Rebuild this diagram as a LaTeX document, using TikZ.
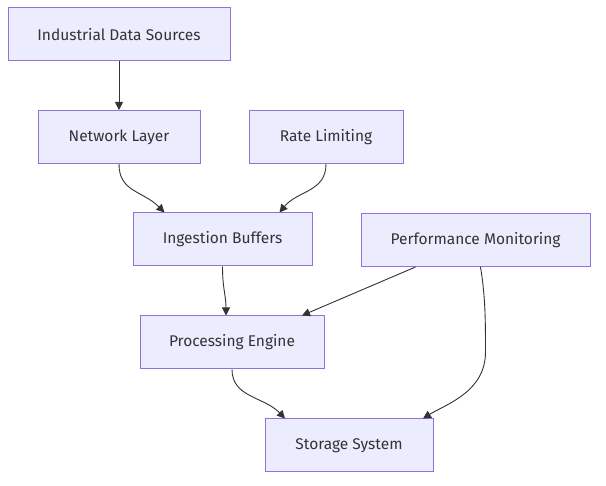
\documentclass[tikz,border=0pt]{standalone}
\usepackage{fontspec}
\setmainfont{Fira Sans}
\usetikzlibrary{arrows.meta}
\definecolor{boxfill}{HTML}{ECECFF}
\definecolor{boxline}{HTML}{9370DB}
\definecolor{edge}{HTML}{333333}
\begin{document}
\begin{tikzpicture}[x=1pt,y=-1pt,
  box/.style={draw=boxline,fill=boxfill,line width=1pt,minimum height=53pt,inner sep=0pt,
    font=\fontsize{15.5}{18}\selectfont,text=edge},
  link/.style={draw=edge,line width=0.9pt,-{Triangle[length=8pt,width=8pt]}}]
\path[use as bounding box] (0,0) rectangle (606,486);
\node[box,minimum width=222pt] (ids) at (119,34.5) {Industrial Data Sources};
\node[box,minimum width=162pt] (nl) at (119,137) {Network Layer};
\node[box,minimum width=154pt] (rl) at (326,137) {Rate Limiting};
\node[box,minimum width=179pt] (ib) at (222.5,239.5) {Ingestion Buffers};
\node[box,minimum width=229pt] (pm) at (475.5,240) {Performance Monitoring};
\node[box,minimum width=184pt] (pe) at (232,342.5) {Processing Engine};
\node[box,minimum width=168pt] (ss) at (349,445.5) {Storage System};

\draw[link] (ids.south) -- (nl.north);
\draw[link] (nl.south) .. controls ([shift={(0,28)}]nl.south) and ([shift={(-80,-22)}]ib.north) .. ([shift={(-58,0)}]ib.north);
\draw[link] (rl.south) .. controls ([shift={(0,28)}]rl.south) and ([shift={(75,-22)}]ib.north) .. ([shift={(57,0)}]ib.north);
\draw[link] (ib.south) .. controls ([shift={(0,22)}]ib.south) and ([shift={(-6,-20)}]pe.north) .. ([shift={(-6,0)}]pe.north);
\draw[link] ([shift={(-60,0)}]pm.south) -- ([shift={(70,0)}]pe.north);
\draw[link] ([shift={(5,0)}]pm.south) .. controls ([shift={(10,30)}]pm.south) and ([shift={(10,55)}]pm.south) .. ([shift={(10,85)}]pm.south) .. controls ([shift={(10,125)}]pm.south) and ([shift={(12,-14)}]ss.north east) .. ([shift={(74,0)}]ss.north);
\draw[link] (pe.south) .. controls ([shift={(0,28)}]pe.south) and ([shift={(-85,-22)}]ss.north) .. ([shift={(-64,0)}]ss.north);
\end{tikzpicture}
\end{document}
